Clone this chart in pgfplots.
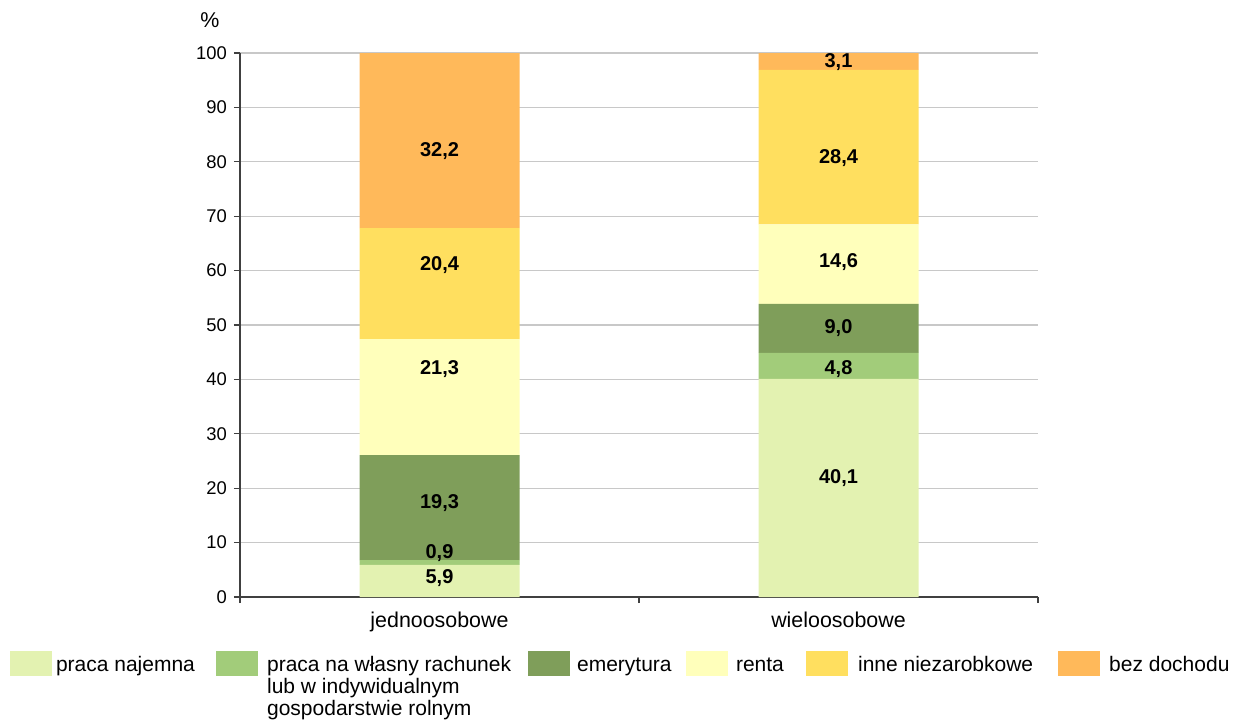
\documentclass[border=0pt]{standalone}
\usepackage{fontspec}
\setmainfont{Liberation Sans}
\usepackage{pgfplots}
\pgfplotsset{compat=1.18}
\definecolor{cA}{HTML}{E3F2B1}
\definecolor{cB}{HTML}{A2CC7A}
\definecolor{cC}{HTML}{7F9E5A}
\definecolor{cD}{HTML}{FFFFBB}
\definecolor{cE}{HTML}{FFDF5F}
\definecolor{cF}{HTML}{FFB95A}
\definecolor{gridc}{HTML}{C8C8C8}
\definecolor{axc}{HTML}{404040}
\begin{document}
\begin{tikzpicture}[font=\fontsize{9.2}{11}\selectfont]
\begin{axis}[
  at={(0,0)}, anchor=south west,
  width=399pt, height=272pt, scale only axis, clip=false,
  ybar stacked, bar width=80pt,
  xmin=-0.5, xmax=1.5, ymin=0, ymax=100,
  xtick={0,1}, xticklabels={jednoosobowe,wieloosobowe},
  minor xtick={-0.5,0.5,1.5},
  ytick={0,10,...,100},
  axis x line*=bottom, axis y line*=left,
  axis line style={axc, line width=0.6pt, -},
  ymajorgrids, grid style={gridc, line width=0.6pt},
  tick align=outside,
  major x tick style={draw=none},
  minor x tick style={axc, line width=0.6pt},
  y tick style={axc, line width=0.6pt},
  major tick length=3pt, minor tick length=3pt,
  /pgf/number format/assume math mode=true,
  yticklabel style={font=\fontsize{9.2}{11}\selectfont},
  xticklabel style={font=\fontsize{10.7}{12}\selectfont, yshift=-1pt},
  legend columns=6,
  legend image code/.code={\fill[#1] (0pt,-2.5pt) rectangle (21pt,10pt);},
  legend style={at={(axis description cs:-0.2882,-0.0993)}, anchor=north west,
    draw=none, inner sep=0pt, outer sep=0pt, fill=none,
    font=\fontsize{10.5}{11}\selectfont,
    nodes={inner sep=0pt, outer sep=0pt},
    cells={anchor=base west},
    /tikz/column 1/.style={column sep=2pt},
    /tikz/column 2/.style={column sep=10.6pt},
    /tikz/column 3/.style={column sep=4.5pt},
    /tikz/column 4/.style={column sep=8.5pt},
    /tikz/column 5/.style={column sep=3.5pt},
    /tikz/column 6/.style={column sep=7.2pt},
    /tikz/column 7/.style={column sep=4pt},
    /tikz/column 8/.style={column sep=11.1pt},
    /tikz/column 9/.style={column sep=5pt},
    /tikz/column 10/.style={column sep=12.5pt},
    /tikz/column 11/.style={column sep=4.5pt}},
]
\addplot[fill=cA, draw=none] coordinates {(0,5.9) (1,40.1)};
\addplot[fill=cB, draw=none] coordinates {(0,0.9) (1,4.8)};
\addplot[fill=cC, draw=none] coordinates {(0,19.3) (1,9.0)};
\addplot[fill=cD, draw=none] coordinates {(0,21.3) (1,14.6)};
\addplot[fill=cE, draw=none] coordinates {(0,20.4) (1,28.4)};
\addplot[fill=cF, draw=none] coordinates {(0,32.2) (1,3.1)};
\legend{praca najemna,{\begin{tabular}[t]{@{}l@{}}praca na własny rachunek\\lub w indywidualnym\\gospodarstwie rolnym\end{tabular}},emerytura,renta,inne niezarobkowe,bez dochodu}
\node[font=\fontsize{10.7}{12}\selectfont] at (rel axis cs:0,1) [xshift=-15pt, yshift=16.5pt] {\%};
\end{axis}
\begin{axis}[
  at={(0,0)}, anchor=south west,
  width=399pt, height=272pt, scale only axis,
  xmin=-0.5, xmax=1.5, ymin=0, ymax=100,
  hide axis,
]
\addplot[draw=none, mark=none, nodes near coords, point meta=explicit symbolic,
  every node near coord/.style={anchor=center, font=\fontsize{10}{12}\selectfont\bfseries}]
  coordinates {(0,3.5) [5,9] (0,8.1) [0,9] (0,17.3) [19,3] (0,41.9) [21,3] (0,61.0) [20,4] (0,82.0) [32,2]
               (1,21.9) [40,1] (1,41.9) [4,8] (1,49.4) [9,0] (1,61.6) [14,6] (1,80.7) [28,4] (1,98.3) [3,1]};
\end{axis}
\pgfresetboundingbox
\path[use as bounding box] (-120pt,-61.5pt) rectangle (497.5pt,298.5pt);
\end{tikzpicture}
\end{document}
